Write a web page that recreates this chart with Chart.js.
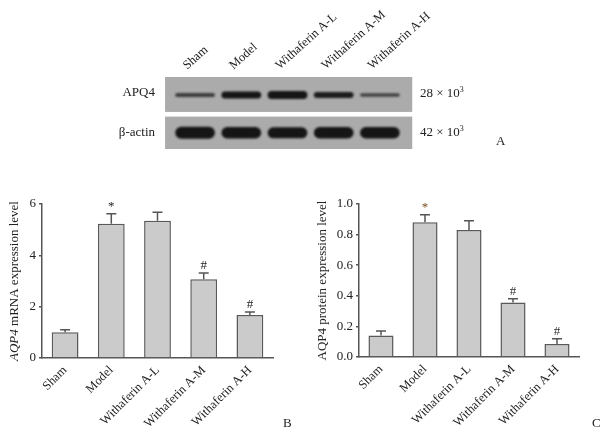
<!DOCTYPE html>
<html>
<head>
<meta charset="utf-8">
<script src="https://cdn.jsdelivr.net/npm/chart.js@4.4.0/dist/chart.umd.min.js"></script>
<style>
html, body { margin: 0; padding: 0; background: #fff; }
#wrap { position: relative; width: 612px; height: 437px; overflow: hidden; font-family: "Liberation Serif", "Times New Roman", serif; color: #222; }
canvas { position: absolute; }
.lbl { position: absolute; font-size: 13px; line-height: 13px; white-space: nowrap; z-index: 2; }
.lbl sup { font-size: 8px; line-height: 0; vertical-align: 5px; }
</style>
</head>
<body>
<div id="wrap">
  <canvas id="blot" width="460" height="160" style="left:60px;top:0px"></canvas>
  <canvas id="chartB" width="300" height="257" style="left:0px;top:180px"></canvas>
  <canvas id="chartC" width="312" height="257" style="left:300px;top:180px"></canvas>

  <div class="lbl" style="right:457px;top:85px">APQ4</div>
  <div class="lbl" style="right:457px;top:125px">β-actin</div>
  <div class="lbl" style="left:420px;top:86px">28 × 10<sup>3</sup></div>
  <div class="lbl" style="left:420px;top:125px">42 × 10<sup>3</sup></div>
  <div class="lbl" style="left:496px;top:134px">A</div>
  <div class="lbl" style="left:283px;top:416px">B</div>
  <div class="lbl" style="left:592px;top:416px">C</div>
</div>

<script>
// groups
const lanes = ['Sham', 'Model', 'Withaferin A-L', 'Withaferin A-M', 'Withaferin A-H'];

// western blot band density (relative)
const apq4Density = [0.2, 0.5, 0.6, 0.4, 0.15];
const actinDensity = [1.0, 0.95, 0.9, 0.95, 0.95];

// B: AQP4 mRNA
const mrnaMean = [1.0, 5.23, 5.35, 3.07, 1.68];
const mrnaErr = [0.1, 0.39, 0.33, 0.24, 0.11];
const mrnaMarks = ['', '*', '', '#', '#'];
const mrnaTicks = [0, 2, 4, 6];

// C: AQP4 protein
const proteinMean = [0.14, 0.88, 0.83, 0.356, 0.085];
const proteinErr = [0.03, 0.05, 0.06, 0.025, 0.035];
const proteinMarks = ['', '*', '', '#', '#'];
const proteinTicks = [0, 0.2, 0.4, 0.6, 0.8, 1.0];

const FONT = 'Liberation Serif';
const INK = '#222';
const AXIS = '#555';

function errorBars(means, errs, marks, markColors) {
    return {
        id: 'errorBars',
        afterDatasetsDraw(chart) {
            const { ctx, scales: { y } } = chart;
            const meta = chart.getDatasetMeta(0);
            ctx.save();
            ctx.strokeStyle = AXIS;
            ctx.lineWidth = 1.5;
            meta.data.forEach((bar, i) => {
                const top = y.getPixelForValue(means[i] + errs[i]);
                const base = y.getPixelForValue(means[i]);
                ctx.beginPath();
                ctx.moveTo(bar.x, base);
                ctx.lineTo(bar.x, top);
                ctx.moveTo(bar.x - 5, top);
                ctx.lineTo(bar.x + 5, top);
                ctx.stroke();
                if (marks[i]) {
                    ctx.fillStyle = markColors[i] || INK;
                    ctx.font = '13px "' + FONT + '"';
                    ctx.textAlign = 'center';
                    ctx.textBaseline = 'bottom';
                    ctx.fillText(marks[i], bar.x, top - 1);
                }
            });
            ctx.restore();
        }
    };
}

function yTitle(parts, x) {
    return {
        id: 'yTitle',
        afterDraw(chart) {
            const { ctx, chartArea } = chart;
            ctx.save();
            const fonts = parts.map(p => (p.italic ? 'italic ' : '') + '13px "' + FONT + '"');
            let total = 0;
            const widths = parts.map((p, i) => {
                ctx.font = fonts[i];
                const w = ctx.measureText(p.text).width;
                total += w;
                return w;
            });
            ctx.translate(x, (chartArea.top + chartArea.bottom) / 2);
            ctx.rotate(-Math.PI / 2);
            ctx.fillStyle = INK;
            ctx.textBaseline = 'middle';
            ctx.textAlign = 'left';
            let cx = -total / 2;
            parts.forEach((p, i) => {
                ctx.font = fonts[i];
                ctx.fillText(p.text, cx, 0);
                cx += widths[i];
            });
            ctx.restore();
        }
    };
}

function barChart(id, means, errs, marks, markColors, ticks, title, opt) {
    return new Chart(document.getElementById(id), {
        type: 'bar',
        data: {
            labels: lanes,
            datasets: [{
                data: means,
                backgroundColor: '#cbcbcb',
                borderColor: '#595959',
                borderWidth: 1.5,
                borderSkipped: 'bottom',
                barPercentage: opt.barPct,
                categoryPercentage: 1
            }]
        },
        options: {
            responsive: false,
            animation: false,
            layout: { padding: { left: 0, right: opt.right, top: opt.top, bottom: 0 } },
            plugins: { legend: { display: false }, tooltip: { enabled: false } },
            scales: {
                x: {
                    grid: { display: false, drawTicks: false },
                    border: { color: AXIS, width: 1.5 },
                    ticks: {
                        minRotation: 45, maxRotation: 45, autoSkip: false, padding: 5,
                        color: INK, font: { family: FONT, size: 12.5 }
                    },
                    afterFit: s => { s.height = opt.xHeight; }
                },
                y: {
                    min: ticks[0],
                    max: ticks[ticks.length - 1],
                    ticks: {
                        stepSize: ticks[1] - ticks[0],
                        padding: 3,
                        color: INK,
                        font: { family: FONT, size: 13 },
                        callback: v => v.toFixed(opt.decimals)
                    },
                    grid: { drawOnChartArea: false, tickLength: 3, color: AXIS, lineWidth: 1.5 },
                    border: { color: AXIS, width: 1.5 },
                    afterFit: s => { s.width = opt.yWidth; }
                }
            }
        },
        plugins: [errorBars(means, errs, marks, markColors), yTitle(title, opt.titleX)]
    });
}

// blot panel A
const blotPlugin = {
    id: 'blot',
    beforeDatasetsDraw(chart) {
        const { ctx, scales: { x, y } } = chart;
        const step = x.getPixelForValue(1) - x.getPixelForValue(0);
        const left = x.getPixelForValue(0) - step * 0.65;
        const right = x.getPixelForValue(lanes.length - 1) + step * 0.7;
        const rows = [
            { top: 2, bottom: 1.03, centre: 1.5, dens: apq4Density },
            { top: 0.9, bottom: 0, centre: 0.45, dens: actinDensity }
        ];
        rows.forEach(r => {
            const t = y.getPixelForValue(r.top);
            const b = y.getPixelForValue(r.bottom);
            ctx.fillStyle = '#ababab';
            ctx.fillRect(left, t, right - left, b - t);
            const cy = y.getPixelForValue(r.centre);
            r.dens.forEach((d, i) => {
                const cx = x.getPixelForValue(i);
                const h = 2 + 10 * d;
                const w = step * 0.86;
                ctx.save();
                ctx.filter = 'blur(1px)';
                ctx.globalAlpha = Math.min(1, 0.55 + d);
                ctx.fillStyle = '#151515';
                ctx.beginPath();
                ctx.roundRect(cx - w / 2, cy - h / 2, w, h, h / 2);
                ctx.fill();
                ctx.restore();
            });
        });
    }
};

new Chart(document.getElementById('blot'), {
    type: 'bar',
    data: { labels: lanes, datasets: [] },
    options: {
        responsive: false,
        animation: false,
        layout: { padding: { left: 112, right: 117, top: 0, bottom: 11 } },
        plugins: { legend: { display: false }, tooltip: { enabled: false } },
        scales: {
            x: {
                position: 'top',
                grid: { display: false, drawTicks: false },
                border: { display: false },
                ticks: {
                    minRotation: 42, maxRotation: 42, autoSkip: false, padding: 4,
                    color: INK, font: { family: FONT, size: 12.5 }
                },
                afterFit: s => { s.height = 77; }
            },
            y: { display: false, min: 0, max: 2 }
        }
    },
    plugins: [blotPlugin]
});

barChart('chartB', mrnaMean, mrnaErr, mrnaMarks, [], mrnaTicks,
    [{ text: 'AQP4', italic: true }, { text: ' mRNA expression level' }],
    { right: 27, top: 24, xHeight: 79, yWidth: 42, barPct: 0.58, decimals: 0, titleX: 15 });

barChart('chartC', proteinMean, proteinErr, proteinMarks, ['', '#7a4a1e', '', '#333', '#333'], proteinTicks,
    [{ text: 'AQP4 protein expression level' }],
    { right: 33, top: 24, xHeight: 80, yWidth: 59, barPct: 0.57, decimals: 1, titleX: 23 });
</script>
</body>
</html>
